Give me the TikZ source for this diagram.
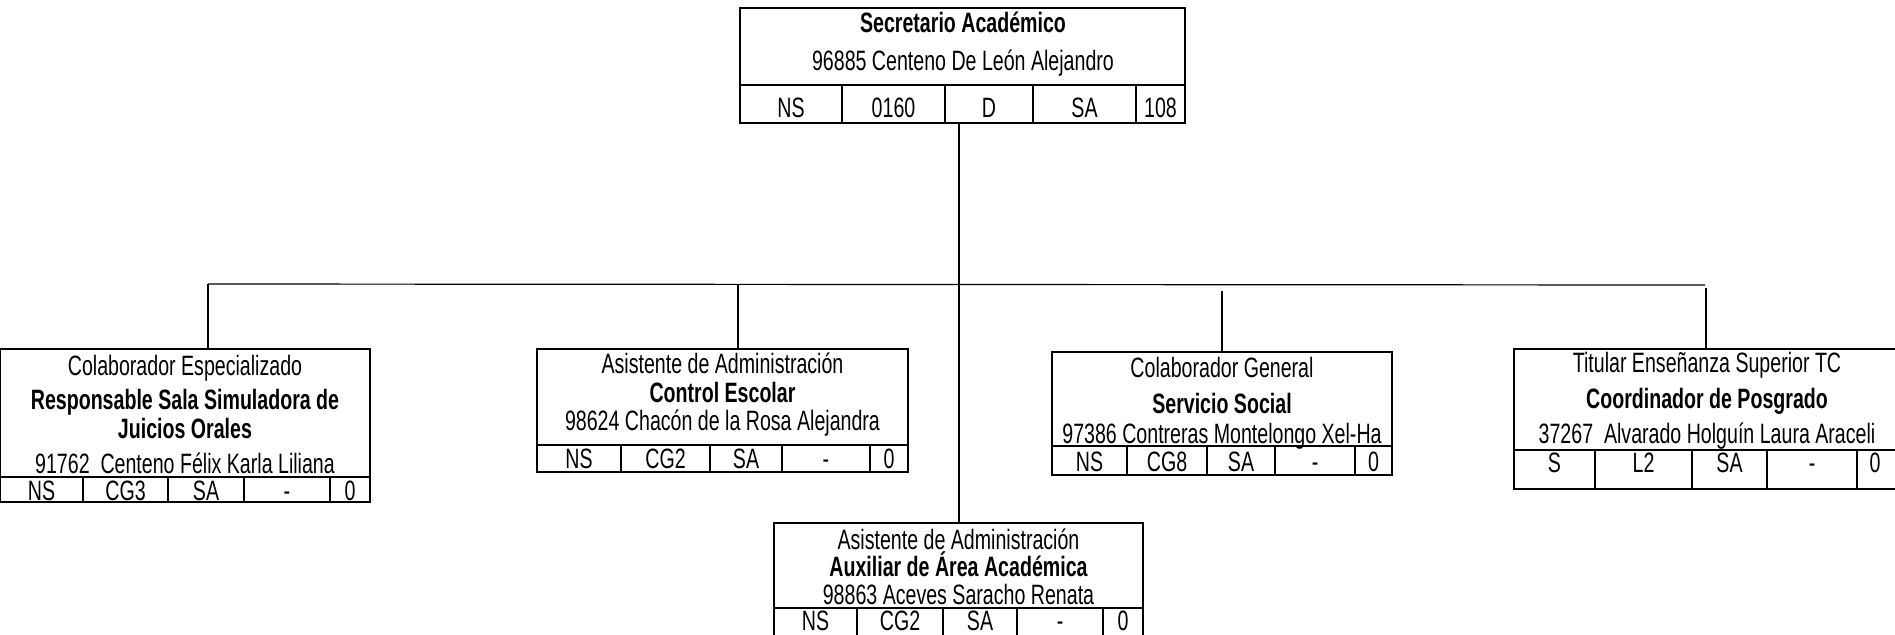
\documentclass[tikz,border=0pt]{standalone}
\usepackage{fontspec}
\setmainfont{Liberation Sans}[FakeStretch=0.70]
\usetikzlibrary{fit}
\tikzset{
  orgbox/.style={draw, line width=1.2pt, inner sep=0pt, rectangle},
  rule/.style={line width=1.2pt},
  conn/.style={line width=0.6pt},
  txt/.style={anchor=base, inner sep=0pt, font=\fontsize{14}{16}\selectfont},
  btxt/.style={anchor=base, inner sep=0pt, font=\fontsize{14}{16}\selectfont\bfseries},
}
\begin{document}
\begin{tikzpicture}[x=0.5pt,y=-0.5pt]
\useasboundingbox (0,0) rectangle (1895,634);
\clip (0,0) rectangle (1895,634);

% ---------- top box ----------
\node[orgbox, fit={(740,8)(1185,123)}] (top) {};
\draw[rule] (740,85) -- (1185,85);
\foreach \x in {842,945,1033,1136} \draw[rule] (\x,85) -- (\x,123);
\node[btxt] (topt) at (963,32) {Secretario Académico};
\node[txt] (topn) at (963,70) {96885 Centeno De León Alejandro};
\node[txt] (topc1) at (791,117) {NS};
\node[txt] (topc2) at (893.5,117) {0160};
\node[txt] (topc3) at (989,117) {D};
\node[txt] (topc4) at (1084.5,117) {SA};
\node[txt] (topc5) at (1160.5,117) {108};

% ---------- box 1 ----------
\node[orgbox, fit={(0,349)(370,502)}] (b1) {};
\draw[rule] (0,477) -- (370,477);
\foreach \x in {83,168,244,330} \draw[rule] (\x,477) -- (\x,502);
\node[txt] (b1a) at (185,375) {Colaborador Especializado};
\node[btxt] (b1b) at (185,409) {Responsable Sala Simuladora de};
\node[btxt] (b1c) at (185,438) {Juicios Orales};
\node[txt] (b1d) at (185,473) {91762\ \ Centeno Félix Karla Liliana};
\node[txt] (b1c1) at (41.5,500) {NS};
\node[txt] (b1c2) at (125.5,500) {CG3};
\node[txt] (b1c3) at (206,500) {SA};
\node[txt] (b1c4) at (287,500) {-};
\node[txt] (b1c5) at (350,500) {0};

% ---------- box 2 ----------
\node[orgbox, fit={(537,349)(908,472)}] (b2) {};
\draw[rule] (537,445) -- (908,445);
\foreach \x in {621,710,782,870} \draw[rule] (\x,445) -- (\x,472);
\node[txt] (b2a) at (722.5,373) {Asistente de Administración};
\node[btxt] (b2b) at (722.5,402) {Control Escolar};
\node[txt] (b2d) at (722.5,430) {98624 Chacón de la Rosa Alejandra};
\node[txt] (b2c1) at (579,468) {NS};
\node[txt] (b2c2) at (665.5,468) {CG2};
\node[txt] (b2c3) at (746,468) {SA};
\node[txt] (b2c4) at (826,468) {-};
\node[txt] (b2c5) at (889,468) {0};

% ---------- box 3 ----------
\node[orgbox, fit={(1052,352)(1392,475)}] (b3) {};
\draw[rule] (1052,446) -- (1392,446);
\foreach \x in {1127,1207,1275,1355} \draw[rule] (\x,446) -- (\x,475);
\node[txt] (b3a) at (1222,377) {Colaborador General};
\node[btxt] (b3b) at (1222,413) {Servicio Social};
\node[txt] (b3d) at (1222,443) {97386 Contreras Montelongo Xel-Ha};
\node[txt] (b3c1) at (1089.5,471) {NS};
\node[txt] (b3c2) at (1167,471) {CG8};
\node[txt] (b3c3) at (1241,471) {SA};
\node[txt] (b3c4) at (1315,471) {-};
\node[txt] (b3c5) at (1373.5,471) {0};

% ---------- box 4 ----------
\node[orgbox, fit={(1514,349)(1900,489)}] (b4) {};
\draw[rule] (1514,450) -- (1900,450);
\foreach \x in {1595,1692,1767,1857} \draw[rule] (\x,450) -- (\x,489);
\node[txt] (b4a) at (1707,372) {Titular Enseñanza Superior TC};
\node[btxt] (b4b) at (1707,408) {Coordinador de Posgrado};
\node[txt] (b4d) at (1707,443) {37267\ \ Alvarado Holguín Laura Araceli};
\node[txt] (b4c1) at (1554.5,472) {S};
\node[txt] (b4c2) at (1643.5,472) {L2};
\node[txt] (b4c3) at (1729.5,472) {SA};
\node[txt] (b4c4) at (1812,472) {-};
\node[txt] (b4c5) at (1875,472) {0};

% ---------- box 5 ----------
\node[orgbox, fit={(774,523)(1143,645)}] (b5) {};
\draw[rule] (774,608) -- (1143,608);
\foreach \x in {857,943,1017,1103} \draw[rule] (\x,608) -- (\x,645);
\node[txt] (b5a) at (958.5,549) {Asistente de Administración};
\node[btxt] (b5b) at (958.5,576) {Auxiliar de Área Académica};
\node[txt] (b5d) at (958.5,604) {98863 Aceves Saracho Renata};
\node[txt] (b5c1) at (815.5,630) {NS};
\node[txt] (b5c2) at (900,630) {CG2};
\node[txt] (b5c3) at (980,630) {SA};
\node[txt] (b5c4) at (1060,630) {-};
\node[txt] (b5c5) at (1123,630) {0};

% ---------- connectors ----------
\coordinate (hl) at (208,284);
\coordinate (hr) at (1705,285);
\coordinate (j2) at (738,284);
\coordinate (j3) at (1222,291);
\coordinate (j4) at (1706,288);
\coordinate (tr) at (959,123);
\draw[conn] (hl) -- (hr);
\draw[conn] (tr) -- (tr |- b5.north);
\draw[conn] (hl) -- (hl |- b1.north);
\draw[conn] (j2) -- (j2 |- b2.north);
\draw[conn] (j3) -- (j3 |- b3.north);
\draw[conn] (j4) -- (j4 |- b4.north);
\end{tikzpicture}
\end{document}
